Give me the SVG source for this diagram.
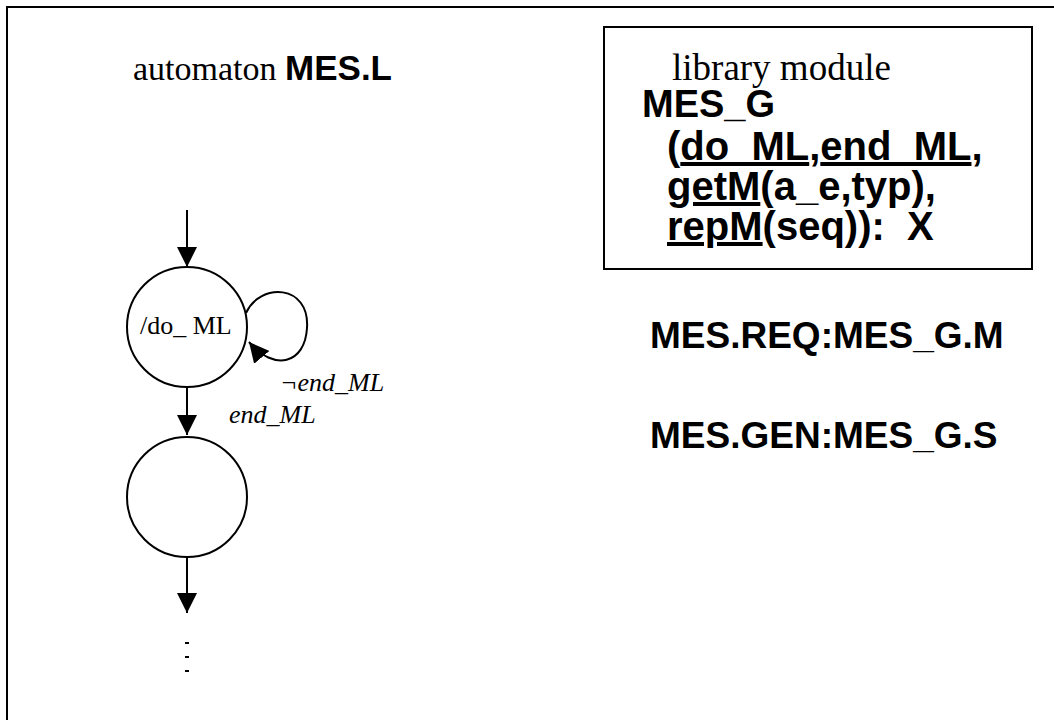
<svg xmlns="http://www.w3.org/2000/svg" width="1054" height="720" viewBox="0 0 1054 720">
<style>
.serif{font-family:"Liberation Serif","Times New Roman",serif;font-weight:normal;fill:#000}
.sans{font-family:"Liberation Sans",Arial,sans-serif;font-weight:bold;fill:#000}
.it{font-family:"Liberation Serif","Times New Roman",serif;font-style:italic;font-weight:normal;fill:#000}
.st{fill:#fff;stroke:#000;stroke-width:2}
.edge{fill:none;stroke:#000;stroke-width:2}
.u{text-decoration:underline}
</style>
<defs>
<marker id="ah" viewBox="0 0 10 10" refX="10" refY="5" markerUnits="userSpaceOnUse" markerWidth="20" markerHeight="20" orient="auto">
<path d="M0,0 L10,5 L0,10 z" fill="#000"/>
</marker>
</defs>
<rect x="0" y="0" width="1054" height="720" fill="#fff"/>
<rect id="frame" x="7" y="7" width="1060" height="730" fill="none" stroke="#000" stroke-width="2"/>
<g id="title">
<text x="133" y="80" class="serif" font-size="34">automaton <tspan class="sans" font-size="35">MES.L</tspan></text>
</g>
<g id="library">
<rect x="604" y="27" width="428" height="242" fill="#fff" stroke="#000" stroke-width="2"/>
<text class="sans" font-size="40" xml:space="preserve"><tspan class="serif" font-size="37" x="672" y="80">library module</tspan><tspan x="642" y="117" font-size="38">MES_G</tspan><tspan x="667" y="160">(<tspan class="u">do_ML</tspan>,<tspan class="u">end_ML</tspan>,</tspan><tspan x="667" y="200"><tspan class="u">getM</tspan>(a_e,typ),</tspan><tspan x="667" y="240"><tspan class="u">repM</tspan>(seq)):  X</tspan></text>
</g>
<g id="req"><text x="650" y="348" class="sans" font-size="37">MES.REQ:MES_G.M</text></g>
<g id="gen"><text x="650" y="448" class="sans" font-size="37">MES.GEN:MES_G.S</text></g>
<g id="s1">
<circle cx="187" cy="327" r="60" class="st"/>
<text x="140" y="334" class="serif" font-size="26" xml:space="preserve">/do_ ML</text>
</g>
<g id="s2">
<circle cx="187" cy="497" r="60" class="st"/>
</g>
<g id="connectors">
<line x1="187" y1="210" x2="187" y2="267" class="edge" marker-end="url(#ah)"/>
<path d="M246,313 C260,282 310,284 307,328 C305,364 274,372 249,342" class="edge" marker-end="url(#ah)"/>
<line x1="187" y1="387" x2="187" y2="435" class="edge" marker-end="url(#ah)"/>
<line x1="187" y1="557" x2="187" y2="613" class="edge" marker-end="url(#ah)"/>
<rect x="185" y="642" width="4" height="2" fill="#000"/>
<rect x="185" y="656" width="4" height="2" fill="#000"/>
<rect x="185" y="670" width="4" height="2" fill="#000"/>
</g>
<g id="labels">
<text x="280" y="391" class="it" font-size="26">¬end_ML</text>
<text x="229" y="423" class="it" font-size="26">end_ML</text>
</g>
</svg>
